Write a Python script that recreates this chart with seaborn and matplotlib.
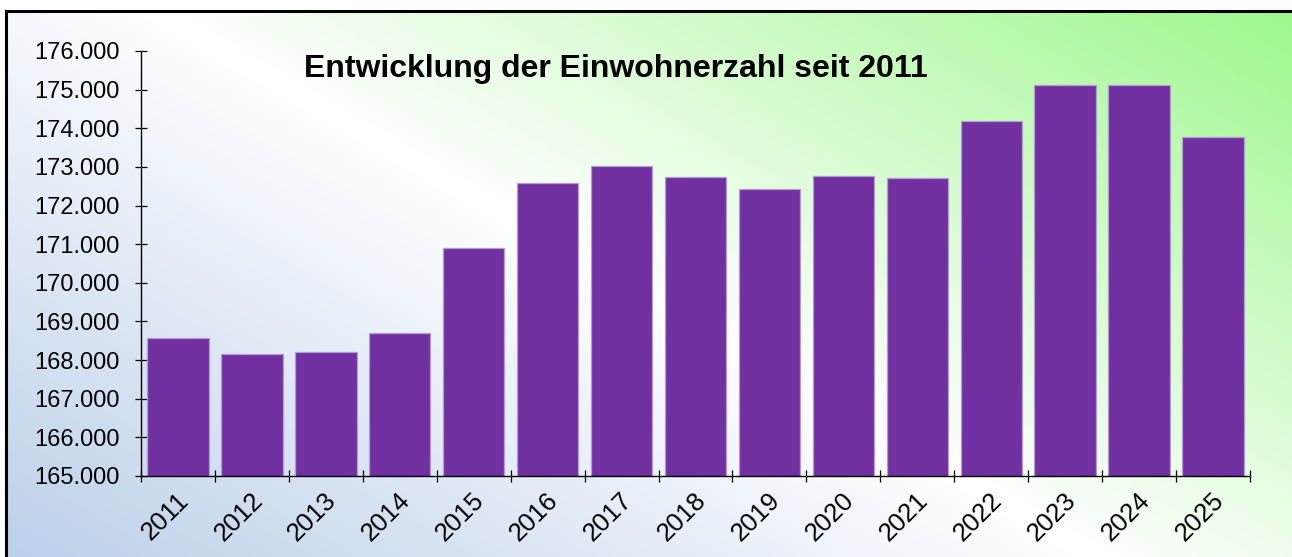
import numpy as np
import pandas as pd
import matplotlib
matplotlib.use("Agg")
import matplotlib.pyplot as plt
import matplotlib.ticker as mticker
import matplotlib.transforms as mtransforms
from matplotlib.colors import LinearSegmentedColormap
import seaborn as sns

years = ["2011", "2012", "2013", "2014", "2015", "2016", "2017", "2018",
         "2019", "2020", "2021", "2022", "2023", "2024", "2025"]
einwohner = [168565, 168167, 168200, 168694, 170894, 172584, 173016, 172731,
             172436, 172773, 172705, 174190, 175120, 175110, 173770]
y_ticks = [165000, 166000, 167000, 168000, 169000, 170000, 171000, 172000,
           173000, 174000, 175000, 176000]
title = "Entwicklung der Einwohnerzahl seit 2011"

sns.set_theme(style="white")
plt.rcParams["font.family"] = ["Liberation Sans", "DejaVu Sans"]

W, H = 1292, 557
fig = plt.figure(figsize=(W / 100, H / 100), dpi=100)
fig.patch.set_facecolor("white")

# background gradient panel with border
bx0, by_top = 6 / W, 11 / H
bg = fig.add_axes([bx0, 0, 1 - bx0, 1 - by_top], zorder=0)
gx = np.linspace(0, W - 6, 400)
gy = np.linspace(11, H, 200)
GX, GY = np.meshgrid(gx, gy)
s = 0.58 * GX - GY
s = (s - s.min()) / (s.max() - s.min())
cmap = LinearSegmentedColormap.from_list(
    "bg", [(0.0, "#bcd0ea"), (0.49, "#ffffff"), (1.0, "#9ef88e")])
bg.imshow(s, cmap=cmap, aspect="auto", extent=[0, 1, 0, 1], origin="upper")
bg.set_xticks([]); bg.set_yticks([])
for side in ["right", "bottom"]:
    bg.spines[side].set_visible(False)
for side in ["left", "top"]:
    bg.spines[side].set_color("black")
    bg.spines[side].set_linewidth(2.2)

ax = fig.add_axes([141 / W, 1 - 476 / H, (1250 - 141) / W, (476 - 51) / H], zorder=1)
ax.set_facecolor("none")
df = pd.DataFrame({"Jahr": years, "Einwohner": einwohner})
sns.barplot(data=df, x="Jahr", y="Einwohner", color="#7030A0", saturation=1,
            width=0.83, edgecolor="#b59ad6", linewidth=0.9, ax=ax)
ax.set_ylim(165000, 176000)
ax.set_xlim(-0.5, len(years) - 0.5)
ax.set_yticks(y_ticks)
ax.yaxis.set_major_formatter(mticker.FuncFormatter(lambda v, p: f"{v:,.0f}".replace(",", ".")))
ax.set_xlabel(""); ax.set_ylabel("")
for side in ["top", "right"]:
    ax.spines[side].set_visible(False)
for side in ["left", "bottom"]:
    ax.spines[side].set_color("black")
    ax.spines[side].set_linewidth(1.0)

ax.tick_params(axis="y", which="major", direction="inout", length=8.6, width=0.9,
               color="black", pad=11, labelsize=17, labelcolor="black", left=True)
ax.set_xticks(np.arange(len(years)))
ax.set_xticks(np.arange(-0.5, len(years), 1.0), minor=True)
ax.tick_params(axis="x", which="major", length=0, pad=15, labelsize=18.5, labelcolor="black")
ax.tick_params(axis="x", which="minor", direction="inout", length=9, width=0.9,
               color="black", bottom=True)
shift = mtransforms.ScaledTranslation(7 / 100, 0, fig.dpi_scale_trans)
for lab in ax.get_xticklabels():
    lab.set_rotation(45)
    lab.set_ha("right")
    lab.set_va("center")
    lab.set_rotation_mode("anchor")
    lab.set_transform(lab.get_transform() + shift)

fig.text(616 / W, 1 - 77 / H, title, ha="center", va="baseline",
         fontsize=23, fontweight="bold", color="black", zorder=3)

fig.savefig("out.png", dpi=100)
